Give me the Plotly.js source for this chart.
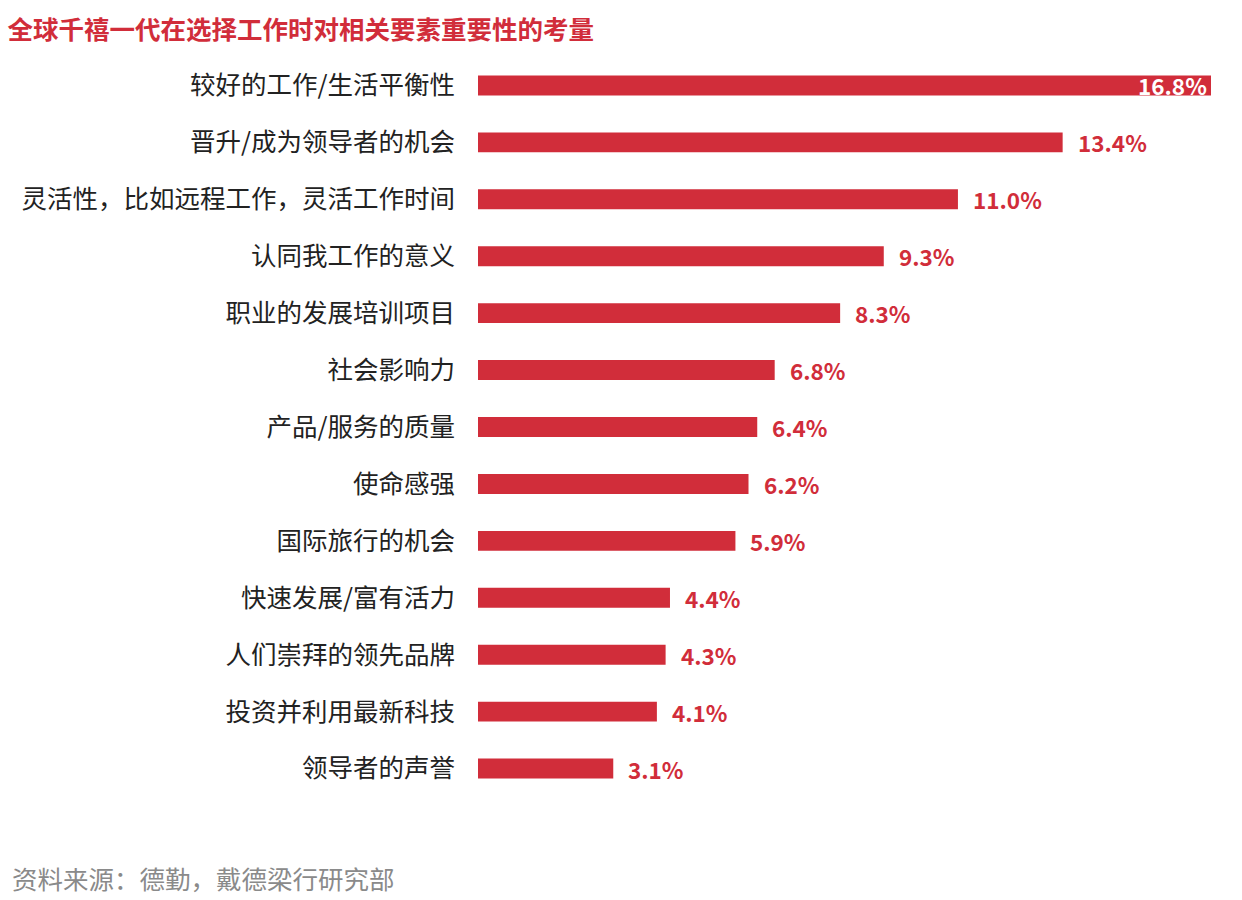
<!DOCTYPE html>
<html>
<head>
<meta charset="utf-8">
<script src="https://cdn.plot.ly/plotly-3.0.1.min.js"></script>
<style>html,body{margin:0;padding:0;background:#fff;}#chart{width:1242px;height:900px;}</style>
</head>
<body>
<div id="chart"></div>
<script>
var categories = ["较好的工作/生活平衡性","晋升/成为领导者的机会","灵活性，比如远程工作，灵活工作时间","认同我工作的意义","职业的发展培训项目","社会影响力","产品/服务的质量","使命感强","国际旅行的机会","快速发展/富有活力","人们崇拜的领先品牌","投资并利用最新科技","领导者的声誉"];
var values = [16.8, 13.4, 11.0, 9.3, 8.3, 6.8, 6.4, 6.2, 5.9, 4.4, 4.3, 4.1, 3.1];
var valueLabels = ["16.8%","13.4%","11.0%","9.3%","8.3%","6.8%","6.4%","6.2%","5.9%","4.4%","4.3%","4.1%","3.1%"];
var titleText = "全球千禧一代在选择工作时对相关要素重要性的考量";
var sourceText = "资料来源：德勤，戴德梁行研究部";

var RED = "#d12d3a";
var FONT = "Noto Sans CJK SC";

var annotations = values.map(function(v, i){
  var inside = (i === 0);
  return {
    x: v, y: categories[i], xref: 'x', yref: 'y',
    text: valueLabels[i], showarrow: false,
    xanchor: inside ? 'right' : 'left',
    xshift: inside ? -2 : 13,
    yanchor: 'middle',
    font: {family: FONT, size: 22.5, color: inside ? '#ffffff' : RED, weight: 700}
  };
});
annotations.push({
  xref: 'paper', yref: 'paper', x: -0.6385, y: -0.1086,
  xanchor: 'left', yanchor: 'middle', showarrow: false,
  text: sourceText,
  font: {family: FONT, size: 25.5, color: '#8a8a8a'}
});

var data = [{
  type: 'bar', orientation: 'h',
  x: values, y: categories,
  marker: {color: RED},
  hoverinfo: 'none'
}];

var layout = {
  width: 1242, height: 900,
  margin: {l: 478, r: 31, t: 56.5, b: 102.5},
  paper_bgcolor: '#ffffff', plot_bgcolor: '#ffffff',
  bargap: 0.65,
  showlegend: false,
  title: {
    text: titleText, xref: 'container', yref: 'container',
    x: 0.006, xanchor: 'left', y: 1 - 30/900, yanchor: 'middle',
    font: {family: FONT, size: 25.5, color: RED, weight: 700}
  },
  xaxis: {range: [0, 16.8], visible: false, fixedrange: true},
  yaxis: {
    autorange: 'reversed', showgrid: false, zeroline: false, showline: false,
    ticks: '', ticklabelstandoff: 22,
    tickfont: {family: FONT, size: 25.5, color: '#222222'}
  },
  annotations: annotations
};

Plotly.newPlot('chart', data, layout, {displayModeBar: false, staticPlot: true});
</script>
</body>
</html>
